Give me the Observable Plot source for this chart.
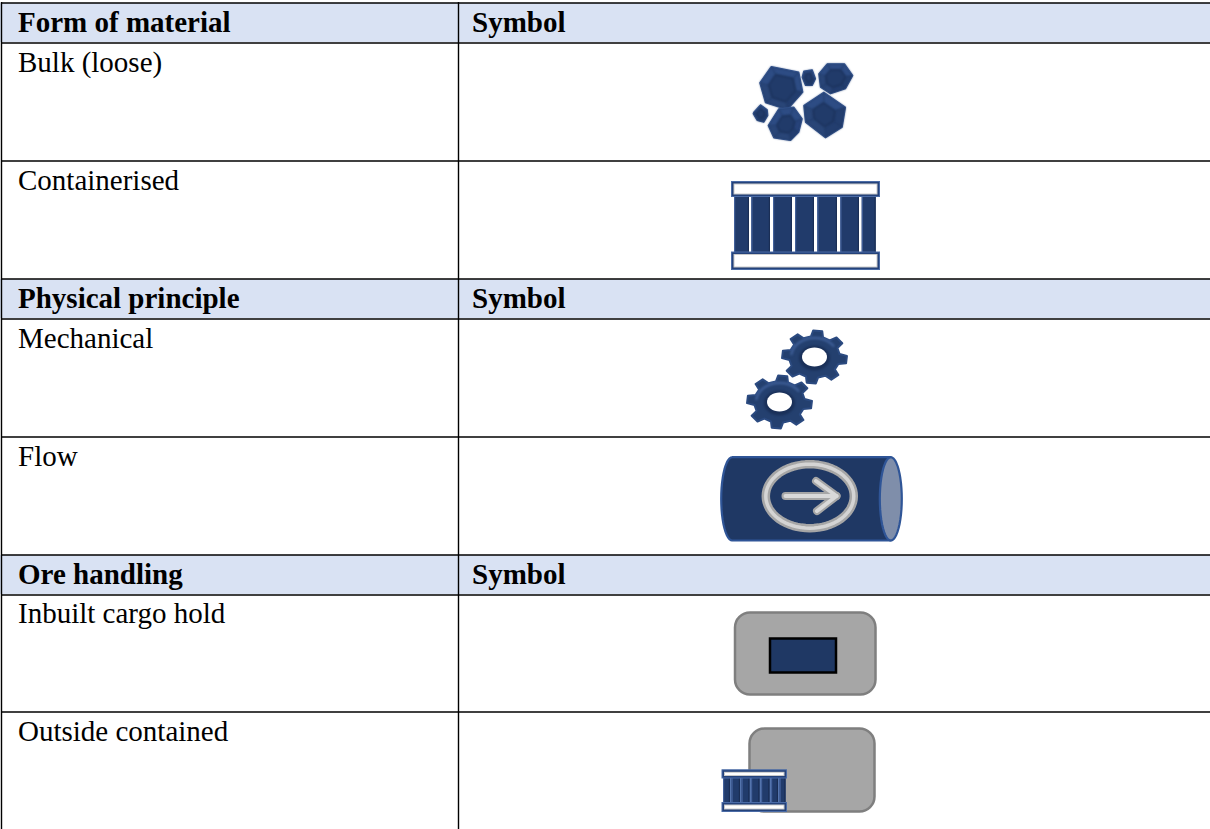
<!DOCTYPE html>
<html>
<head>
<meta charset="utf-8">
<script src="https://cdn.jsdelivr.net/npm/d3@7"></script>
<script src="https://cdn.jsdelivr.net/npm/@observablehq/plot@0.6"></script>
<style>html,body{margin:0;padding:0;background:#fff;overflow:hidden}svg{display:block}</style>
</head>
<body>
<div id="chart"></div>
<script>
// Table text
const headers = [
  {label: "Form of material", symbol: "Symbol", y: 31},
  {label: "Physical principle", symbol: "Symbol", y: 307},
  {label: "Ore handling", symbol: "Symbol", y: 583}
];
const rows = [
  {label: "Bulk (loose)", y: 71},
  {label: "Containerised", y: 189},
  {label: "Mechanical", y: 347},
  {label: "Flow", y: 465},
  {label: "Inbuilt cargo hold", y: 622},
  {label: "Outside contained", y: 740}
];
const textX = [17.5, 471.5];
// Table grid
const hLines = [2.5, 42.5, 160.5, 278.5, 318.5, 436.5, 554.5, 594.5, 711.5];
const vLines = [1, 458];
const headerBands = [[3, 42], [279, 318], [555, 594]];
// Colours
const navy = "#1f3864", edge = "#2f5597", grey = "#a6a6a6", greyEdge = "#7f7f7f";
// Bulk gems: outline, centre, inner scale
const gems = [
  {c: [783, 88], k: 0.62, pts: [[770.7,66],[798.3,71.7],[802.3,91.7],[786.7,109.3],[765,102.3],[759.3,82.3]]},
  {c: [808, 77], k: 0.55, pts: [[803.3,70.7],[811.7,69.3],[815,78.3],[811.7,85],[805,85],[801.7,76.7]]},
  {c: [835, 78], k: 0.58, pts: [[826.7,63.3],[844,63.3],[852.3,75],[845,88.3],[830,93.3],[820,86.7],[818.3,73.3]]},
  {c: [823, 114], k: 0.52, pts: [[823.3,91.7],[845,106.7],[841.7,126.7],[825,137.3],[805,121.7],[803.3,105]]},
  {c: [786, 124], k: 0.52, pts: [[778.3,108.3],[793.3,106.7],[801.7,118.3],[798.3,131.7],[790,140],[773.3,137.3],[767.7,125]]},
  {c: [760, 113], k: 0.55, pts: [[753.3,111.7],[760,104.3],[766.7,109.3],[767.3,115],[763.3,121.7],[756.7,120],[752.7,113.3]]}
];
// Large container
const bigBars = [[734,749],[751.3,770],[773,792],[795,814],[817.3,837],[840.3,859],[861.7,875.7]];
const bigFrame = {x1: 734, x2: 875.7, y1: 196, y2: 252};
const bigCaps = [[731.5,879.5,181.5,196.5],[731.5,879.5,252,269.5]];
// Small container
const smallBars = [[723,730],[731.5,740],[741.5,749.5],[751,759.5],[761,769.5],[771,778],[779.5,785.5]];
const smallFrame = {y1: 778, y2: 802};
const smallCaps = [[722,786.5,769.8,778],[722,786.5,802.5,811.5]];
// Gears
const gearCentres = [[814, 356.5], [779, 401.5]];
const gearTeeth = 8, gearRx = 32.5, gearRy = 26.5, gearRootRatio = 0.78, holeRx = 12.5, holeRy = 9.5;
// Flow cylinder
const cyl = {x1: 731.7, x2: 890.3, y1: 456.7, y2: 540, rx: 11};
const flowRing = {cx: 809.3, cy: 495.7, rx: 44, ry: 32};
const arrowShaft = [[785,495.5],[836,495.5]];
const arrowHead = [[815.5,480.5],[836,495.5],[816.5,510.5]];
// Ore handling boxes
const holdBoxes = [[735,875.5,612.5,694.5],[749.5,874.5,728.5,811.5]];
const holdCore = [[770,836,638.5,672.5]];

const ell = (cx, cy, rx, ry, a0, a1, n) => d3.range(n + 1).map(i => {
  const a = a0 + (a1 - a0) * i / n;
  return [cx + rx * Math.cos(a), cy + ry * Math.sin(a)];
});
const poly = (pts, o) => Plot.line(pts, {x: d => d[0], y: d => d[1], curve: "linear-closed", ...o});
const soft = "blur(0.5px)", softer = "blur(0.8px)";

function gemMarks(g) {
  const inner = g.pts.map(p => [g.c[0] + (p[0] - g.c[0]) * g.k, g.c[1] + (p[1] - g.c[1]) * g.k]);
  const marks = [poly(g.pts, {fill: navy, stroke: "#35548c", strokeWidth: 1.2, imageFilter: soft})];
  g.pts.forEach((p, i) => {
    const j = (i + 1) % g.pts.length;
    const my = (p[1] + g.pts[j][1]) / 2 - g.c[1], mx = (p[0] + g.pts[j][0]) / 2 - g.c[0];
    const fill = my < -2 ? "#2d4c84" : mx < 0 ? "#294577" : my > 2 ? "#233e6f" : "#27437a";
    marks.push(poly([p, g.pts[j], inner[j], inner[i]], {fill, imageFilter: softer}));
  });
  marks.push(poly(inner, {fill: "#213b6a", stroke: "#1a2f57", strokeWidth: 1, imageFilter: softer}));
  return marks;
}
function gearMarks([cx, cy]) {
  const pts = [];
  d3.range(gearTeeth).forEach(i => {
    const a = (i * 2 * Math.PI) / gearTeeth - Math.PI / 2 + 0.1, w = Math.PI / gearTeeth;
    [[gearRootRatio, -0.62], [1, -0.36], [1, 0.36], [gearRootRatio, 0.62]].forEach(([r, t]) =>
      pts.push([cx + gearRx * r * Math.cos(a + t * w), cy + gearRy * r * Math.sin(a + t * w)]));
  });
  return [
    poly(pts, {fill: "#24406f", stroke: "#2b4a80", strokeWidth: 2, strokeLinejoin: "round", imageFilter: soft}),
    Plot.line(ell(cx, cy, gearRx * 0.72, gearRy * 0.72, Math.PI * 1.05, Math.PI * 1.8, 16), {x: d => d[0], y: d => d[1], stroke: "#3d5d96", strokeWidth: 2.5, imageFilter: softer}),
    poly(ell(cx, cy + 1, holeRx + 3, holeRy + 3, 0, 2 * Math.PI, 32), {fill: "#1a3059", imageFilter: softer}),
    poly(ell(cx, cy, holeRx, holeRy, 0, 2 * Math.PI, 32), {fill: "white", imageFilter: soft})
  ];
}
function containerMarks(bars, frame, caps, sw, gapFill, x1, x2) {
  const barRows = bars.map(b => [b[0], b[1], frame.y1, frame.y2]);
  const sheen = bars.map(b => [b[0], b[0] + 1.2, frame.y1, frame.y2]);
  const shade = bars.map(b => [b[1] - 1.2, b[1], frame.y1, frame.y2]);
  const o = d => ({x1: r => r[0], x2: r => r[1], y1: r => r[2], y2: r => r[3], ...d});
  const capIn = caps.map(c => [c[0] + sw, c[1] - sw, c[2] + sw, c[3] - sw]);
  const capCore = caps.map(c => [c[0] + sw + 1, c[1] - sw - 1, c[2] + sw + 1, c[3] - sw - 1]);
  return [
    Plot.rect([[bars[0][0], bars[bars.length - 1][1], frame.y1, frame.y2]], o({fill: gapFill})),
    Plot.rect(barRows, o({fill: "#213b6b"})),
    Plot.rect(sheen, o({fill: "#42609a", imageFilter: soft})),
    Plot.rect(shade, o({fill: "#1a2e55", imageFilter: soft})),
    Plot.rect(caps, o({fill: "#24427a", stroke: "#4a6ba6", strokeWidth: 1})),
    Plot.rect(capIn, o({fill: "#c9c9c9", imageFilter: soft})),
    Plot.rect(capCore, o({fill: "#ffffff", imageFilter: soft}))
  ];
}

const bodyPts = [
  [cyl.x2, cyl.y1], [cyl.x1, cyl.y1],
  ...ell(cyl.x1, (cyl.y1 + cyl.y2) / 2, cyl.rx, (cyl.y2 - cyl.y1) / 2, -Math.PI / 2, -3 * Math.PI / 2, 24),
  [cyl.x2, cyl.y2]
];
const endPts = ell(cyl.x2, (cyl.y1 + cyl.y2) / 2, cyl.rx, (cyl.y2 - cyl.y1) / 2, 0, 2 * Math.PI, 48);
const ringPts = ell(flowRing.cx, flowRing.cy, flowRing.rx, flowRing.ry, 0, 2 * Math.PI, 64);

const line = (pts, o) => Plot.line(pts, {x: d => d[0], y: d => d[1], strokeLinecap: "round", strokeLinejoin: "round", ...o});

const font = "'Liberation Serif', 'Times New Roman', serif";
const chart = Plot.plot({
  width: 1210,
  height: 829,
  margin: 0,
  x: {domain: [0, 1210], range: [0, 1210], axis: null},
  y: {domain: [0, 829], range: [0, 829], axis: null},
  style: {background: "#fff"},
  marks: [
    Plot.rect(headerBands, {x1: 0, x2: 1210, y1: d => d[0], y2: d => d[1], fill: "#d9e2f3"}),
    Plot.ruleY(hLines, {x1: 1, x2: 1210, stroke: "#000", strokeWidth: 1.4}),
    Plot.ruleX(vLines, {y1: 2, y2: 829, stroke: "#000", strokeWidth: 1.4}),
    Plot.text(headers, {x: textX[0], y: "y", text: "label", textAnchor: "start", lineAnchor: "bottom", fontFamily: font, fontWeight: "bold", fontSize: 29, fill: "#000"}),
    Plot.text(headers, {x: textX[1], y: "y", text: "symbol", textAnchor: "start", lineAnchor: "bottom", fontFamily: font, fontWeight: "bold", fontSize: 29, fill: "#000"}),
    Plot.text(rows, {x: textX[0], y: "y", text: "label", textAnchor: "start", lineAnchor: "bottom", fontFamily: font, fontSize: 29, fill: "#000"}),
    ...gems.flatMap(gemMarks),
    ...containerMarks(bigBars, bigFrame, bigCaps, 2, "#ffffff"),
    ...gearCentres.flatMap(gearMarks),
    poly(bodyPts, {fill: navy, stroke: edge, strokeWidth: 2.2}),
    poly(endPts, {fill: "#7f8eaa", stroke: edge, strokeWidth: 2.2}),
    line(ringPts, {stroke: grey, strokeWidth: 8.5}),
    line(ringPts, {stroke: "#d4d4d4", strokeWidth: 3.5}),
    line(arrowShaft, {stroke: grey, strokeWidth: 8}),
    line(arrowHead, {stroke: grey, strokeWidth: 8}),
    line(arrowShaft, {stroke: "#d9d9d9", strokeWidth: 4}),
    line(arrowHead, {stroke: "#d9d9d9", strokeWidth: 4}),
    Plot.rect(holdBoxes, {x1: d => d[0], x2: d => d[1], y1: d => d[2], y2: d => d[3], fill: grey, stroke: greyEdge, strokeWidth: 2.5, rx: 15}),
    Plot.rect(holdCore, {x1: d => d[0], x2: d => d[1], y1: d => d[2], y2: d => d[3], fill: navy, stroke: "#000", strokeWidth: 2.5}),
    ...containerMarks(smallBars, smallFrame, smallCaps, 2, "#5474ad")
  ]
});
document.getElementById("chart").appendChild(chart);
</script>
</body>
</html>
